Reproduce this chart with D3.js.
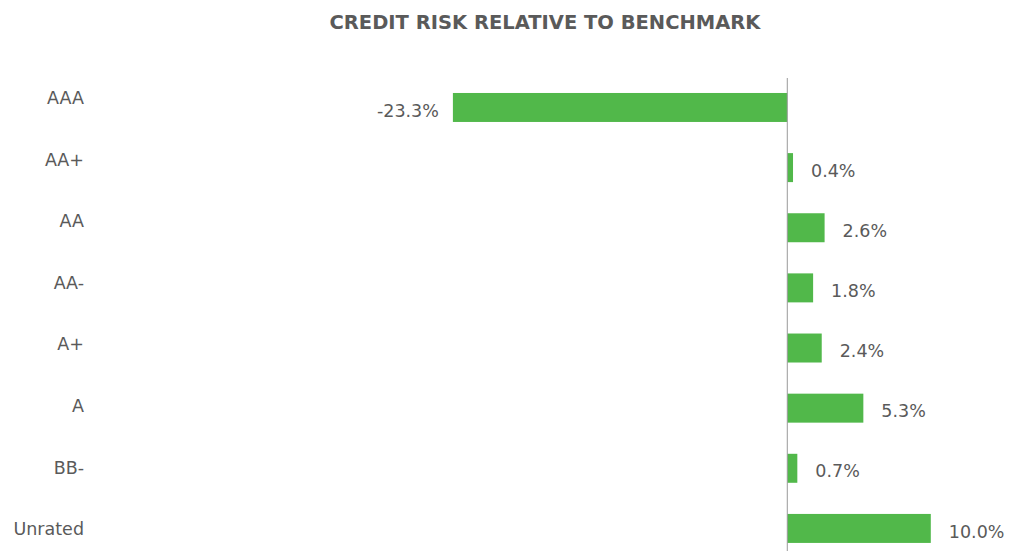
<!DOCTYPE html>
<html>
<head>
<meta charset="utf-8">
<script src="https://cdn.jsdelivr.net/npm/d3@7"></script>
<style>
  body { margin: 0; background: #fff; }
  text { font-family: "DejaVu Sans", sans-serif; fill: #5a5a5a; }
</style>
</head>
<body>
<div id="chart"></div>
<script>
const categories = ["AAA", "AA+", "AA", "AA-", "A+", "A", "BB-", "Unrated"];
const values = [-23.3, 0.4, 2.6, 1.8, 2.4, 5.3, 0.7, 10.0];
const title = "CREDIT RISK RELATIVE TO BENCHMARK";

const width = 1010;
const height = 551;

const data = categories.map((c, i) => ({ name: c, value: values[i] }));

const svg = d3.select("#chart").append("svg")
    .attr("width", width)
    .attr("height", height);

const x = d3.scaleLinear().domain([-25, 12]).range([428.5, 959.5]);

const y = d3.scaleBand()
    .domain(categories)
    .range([77.4, 558.5])
    .paddingInner(0.518)
    .paddingOuter(0.259);

// category labels sit on their own spacing in the original
const yLabel = d3.scalePoint().domain(categories).range([98, 529]);

svg.append("text")
    .attr("x", 545)
    .attr("y", 22)
    .attr("dy", "0.35em")
    .attr("text-anchor", "middle")
    .style("font-size", "19.5px")
    .style("font-weight", "bold")
    .text(title);

const yAxis = d3.axisLeft(yLabel).tickSize(0).tickPadding(0);
svg.append("g")
    .attr("class", "y axis")
    .attr("transform", "translate(84,0)")
    .call(yAxis)
    .call(g => g.select(".domain").remove())
    .selectAll("text")
        .style("font-size", "17.5px")
        .style("font-family", "DejaVu Sans, sans-serif")
        .attr("fill", "#5a5a5a");

svg.selectAll(".bar")
    .data(data)
    .enter().append("rect")
    .attr("class", "bar")
    .attr("x", d => x(Math.min(0, d.value)))
    .attr("y", d => y(d.name))
    .attr("width", d => Math.abs(x(d.value) - x(0)))
    .attr("height", y.bandwidth())
    .attr("fill", "#51b84a");

svg.append("line")
    .attr("x1", x(0))
    .attr("x2", x(0))
    .attr("y1", 78)
    .attr("y2", height)
    .attr("stroke", "#9a9a9a")
    .attr("stroke-width", 1);

svg.selectAll(".value")
    .data(data)
    .enter().append("text")
    .attr("class", "value")
    .attr("x", d => d.value < 0 ? x(d.value) - 14 : x(d.value) + 18)
    .attr("y", d => y(d.name) + y.bandwidth() / 2 + 3)
    .attr("dy", "0.35em")
    .attr("text-anchor", d => d.value < 0 ? "end" : "start")
    .style("font-size", "17.5px")
    .text(d => d.value.toFixed(1) + "%");
</script>
</body>
</html>
